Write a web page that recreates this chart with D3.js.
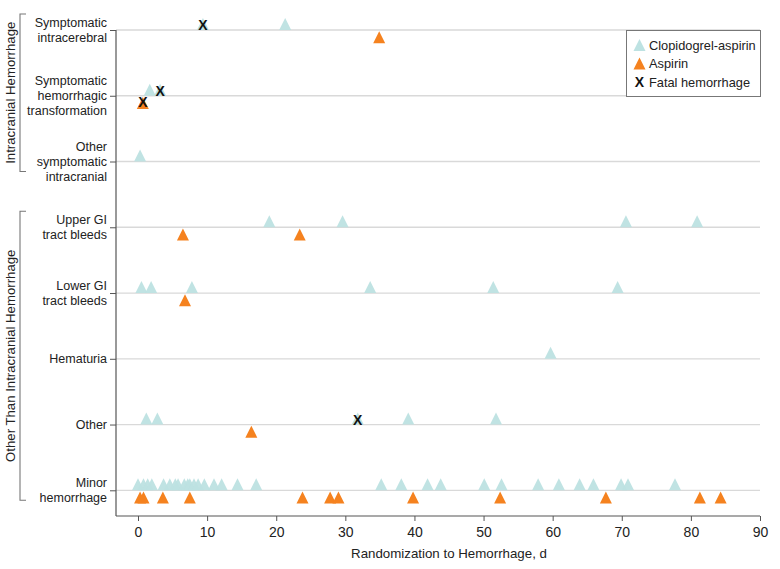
<!DOCTYPE html>
<html><head><meta charset="utf-8">
<script src="https://cdn.jsdelivr.net/npm/d3@7"></script>
<style>body{margin:0;background:#fff}</style>
</head><body><svg id="c" width="780" height="569"></svg>
<script>
const categories = ["Symptomatic intracerebral", "Symptomatic hemorrhagic transformation", "Other symptomatic intracranial", "Upper GI tract bleeds", "Lower GI tract bleeds", "Hematuria", "Other", "Minor hemorrhage"];
const categoryLabelLines = [["Symptomatic","intracerebral"], ["Symptomatic","hemorrhagic","transformation"], ["Other","symptomatic","intracranial"], ["Upper GI","tract bleeds"], ["Lower GI","tract bleeds"], ["Hematuria"], ["Other"], ["Minor","hemorrhage"]];
const groups = ["Intracranial Hemorrhage", "Other Than Intracranial Hemorrhage"];
const groupFirstCategory = ["Symptomatic intracerebral", "Upper GI tract bleeds"];
const groupLastCategory = ["Other symptomatic intracranial", "Minor hemorrhage"];

const clopidogrelAspirinDays = [
  [9.4, 21.3],
  [1.7, 3.2],
  [0.3],
  [19.0, 29.6, 70.6, 80.9],
  [0.5, 1.9, 7.8, 33.6, 51.4, 69.4],
  [59.7],
  [1.2, 2.8, 31.8, 39.1, 51.8],
  [0.0, 0.8, 1.4, 2.0, 3.7, 4.6, 5.4, 5.8, 6.7, 7.2, 7.5, 8.1, 8.7, 9.6, 11.0, 12.1, 14.4, 17.1, 35.2, 38.1, 41.9, 43.8, 50.1, 52.6, 57.9, 60.9, 63.9, 65.9, 69.9, 70.9, 77.7]
];
const aspirinDays = [
  [34.9],
  [0.7],
  [],
  [6.5, 23.4],
  [6.8],
  [],
  [16.4],
  [0.3, 0.8, 3.6, 7.5, 23.8, 27.8, 29.0, 39.8, 52.4, 67.7, 81.3, 84.3]
];
const fatalCategory = ["Symptomatic intracerebral", "Symptomatic hemorrhagic transformation", "Symptomatic hemorrhagic transformation", "Other"];
const fatalGroup = ["Clopidogrel-aspirin", "Clopidogrel-aspirin", "Aspirin", "Clopidogrel-aspirin"];
const fatalDay = [9.4, 3.2, 0.7, 31.8];

const xTicks = [0, 10, 20, 30, 40, 50, 60, 70, 80, 90];
const xTitle = "Randomization to Hemorrhage, d";
const legendLabels = ["Clopidogrel-aspirin", "Aspirin", "Fatal hemorrhage"];

const colTeal = "#bde2e2", colOrange = "#f5821f";
const font = "'Liberation Sans', Arial, sans-serif";
const svg = d3.select("#c");
const x = d3.scaleLinear().domain([0, 90]).range([138, 760]);
const y = d3.scalePoint().domain(categories).range([30, 490.3]);
const axisX0 = 116, axisY0 = 516;

// gridlines
svg.append("g").selectAll("line").data(categories).join("line")
  .attr("x1", axisX0).attr("x2", 760)
  .attr("y1", d => y(d)).attr("y2", d => y(d))
  .attr("stroke", "#d9d9d9").attr("stroke-width", 1.3);

// x axis
const gx = svg.append("g").attr("transform", `translate(0,${axisY0})`)
  .call(d3.axisBottom(x).tickValues(xTicks).tickSize(5).tickPadding(6).tickSizeOuter(0));
gx.select(".domain").remove();
gx.selectAll(".tick line").attr("stroke", "#555");
gx.selectAll(".tick text").attr("font-family", font).attr("font-size", 14).attr("fill", "#222");
svg.append("line").attr("x1", axisX0).attr("x2", 760).attr("y1", axisY0).attr("y2", axisY0)
  .attr("stroke", "#555").attr("stroke-width", 1.2);
svg.append("text").attr("x", (x(0) + x(90)) / 2).attr("y", 558)
  .attr("text-anchor", "middle").attr("font-family", font).attr("font-size", 13.3).attr("fill", "#222")
  .text(xTitle);

// y axis
const gy = svg.append("g").attr("transform", `translate(${axisX0},0)`)
  .call(d3.axisLeft(y).tickSize(6).tickFormat("").tickSizeOuter(0));
gy.select(".domain").remove();
gy.selectAll(".tick line").attr("stroke", "#555");
svg.append("line").attr("x1", axisX0).attr("x2", axisX0).attr("y1", y(categories[0])).attr("y2", axisY0)
  .attr("stroke", "#555").attr("stroke-width", 1.2);

const lbl = svg.append("g").attr("font-family", font).attr("font-size", 12.5).attr("fill", "#222").attr("text-anchor", "end");
categories.forEach((c, i) => {
  const lines = categoryLabelLines[i];
  const t = lbl.append("text").attr("x", 107).attr("y", y(c));
  lines.forEach((ln, j) => {
    t.append("tspan").attr("x", 107)
      .attr("dy", j === 0 ? (-(lines.length - 1) / 2 * 15 + 4.4) : 15)
      .text(ln);
  });
});

// group brackets
groups.forEach((g, i) => {
  const y1 = y(groupFirstCategory[i]) - 16, y2 = y(groupLastCategory[i]) + 10;
  svg.append("path").attr("d", `M26,${y1}H20V${y2}H26`).attr("fill", "none")
    .attr("stroke", "#777").attr("stroke-width", 1.1);
  svg.append("text").attr("transform", `translate(14.5,${(y1 + y2) / 2}) rotate(-90)`)
    .attr("text-anchor", "middle").attr("font-family", font).attr("font-size", 13.2).attr("fill", "#222")
    .text(g);
});

// markers
const triUp = (cx, base) => `M${cx - 6},${base}L${cx + 6},${base}L${cx},${base - 12}Z`;
const pts = [];
categories.forEach((c, i) => {
  clopidogrelAspirinDays[i].forEach(d => pts.push({c, d, g: "Clopidogrel-aspirin"}));
  aspirinDays[i].forEach(d => pts.push({c, d, g: "Aspirin"}));
});
svg.append("g").selectAll("path").data(pts).join("path")
  .attr("d", p => p.g === "Aspirin" ? triUp(x(p.d), y(p.c) + 13.2) : triUp(x(p.d), y(p.c)))
  .attr("fill", p => p.g === "Aspirin" ? colOrange : colTeal)
  .attr("fill-opacity", p => p.g === "Aspirin" ? 1 : 0.95);

svg.append("g").selectAll("text").data(fatalDay.map((d, i) => ({d, c: fatalCategory[i], g: fatalGroup[i]}))).join("text")
  .attr("x", p => x(p.d)).attr("y", p => y(p.c) + (p.g === "Aspirin" ? 6.5 : -5) + 5)
  .attr("text-anchor", "middle").attr("font-family", font).attr("font-weight", "bold")
  .attr("font-size", 14).attr("fill", "#111").text("X");

// legend
const lg = svg.append("g");
lg.append("rect").attr("x", 626.5).attr("y", 30.5).attr("width", 134).attr("height", 66)
  .attr("fill", "#fff").attr("stroke", "#777").attr("stroke-width", 1);
const ly = [45, 63.5, 82];
lg.append("path").attr("d", triUp(639.5, ly[0] + 6)).attr("fill", colTeal);
lg.append("path").attr("d", triUp(639.5, ly[1] + 6)).attr("fill", colOrange);
lg.append("text").attr("x", 639.5).attr("y", ly[2] + 5).attr("text-anchor", "middle")
  .attr("font-family", font).attr("font-weight", "bold").attr("font-size", 14).attr("fill", "#111").text("X");
legendLabels.forEach((t, i) => {
  lg.append("text").attr("x", 649).attr("y", ly[i] + 4.5).attr("font-family", font)
    .attr("font-size", 12.8).attr("fill", "#222").text(t);
});
</script></body></html>
